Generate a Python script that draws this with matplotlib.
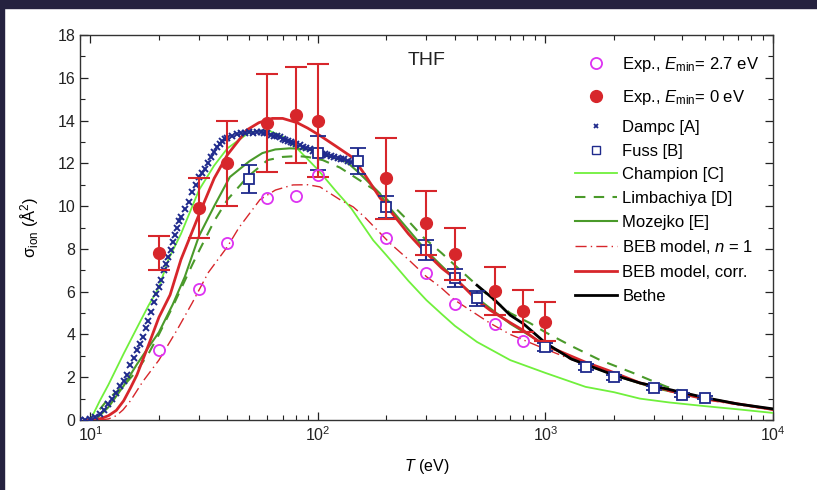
import matplotlib
matplotlib.use("Agg")
import matplotlib.pyplot as plt
from matplotlib.lines import Line2D
from matplotlib.patches import Rectangle
from matplotlib.ticker import MultipleLocator

plt.rcParams['font.family'] = ['Liberation Sans', 'DejaVu Sans']
plt.rcParams['mathtext.fontset'] = 'custom'
plt.rcParams['mathtext.rm'] = 'Liberation Sans'
plt.rcParams['mathtext.it'] = 'Liberation Sans:italic'
plt.rcParams['mathtext.bf'] = 'Liberation Sans:bold'

# --- experiment, E_min = 2.7 eV (open magenta circles)
exp27_T = [20, 30, 40, 60, 80, 100, 200, 300, 400, 600, 800]
exp27_s = [3.27, 6.12, 8.27, 10.38, 10.47, 11.45, 8.5, 6.87, 5.42, 4.49, 3.69]

# --- experiment, E_min = 0 eV (filled red circles with error bars)
exp0_T = [20, 30, 40, 60, 80, 100, 200, 300, 400, 600, 800, 1000]
exp0_s = [7.8, 9.9, 12.0, 13.9, 14.25, 14.0, 11.3, 9.2, 7.76, 6.03, 5.1, 4.6]
exp0_err = [0.8, 1.4, 2.0, 2.3, 2.25, 2.65, 1.9, 1.5, 1.2, 1.1, 1.0, 0.9]

# --- Dampc [A]
dampc_T = [9.0, 9.5, 10.0, 10.5, 11.0, 11.5, 12.0, 12.5, 13.0, 13.5, 14.0, 14.5,
           15.0, 15.5, 16.0, 16.5, 17.0, 17.5, 18.0, 18.5, 19.0, 19.5, 20.0, 20.5,
           21.0, 21.5, 22.0, 22.5, 23.0, 23.5, 24.0, 24.5, 25.0, 26, 27, 28, 29, 30,
           31, 32, 33, 34, 35, 36, 37, 38, 39, 40, 42, 44, 46, 48, 50, 52, 54, 56,
           58, 60, 62, 64, 66, 68, 70, 72, 74, 76, 78, 80, 83, 86, 89, 92, 95, 98,
           101, 104, 107, 110, 114, 118, 122, 126, 130, 135, 140, 145, 150]
dampc_s = [0.0, 0.0, 0.05, 0.15, 0.28, 0.47, 0.75, 1.0, 1.28, 1.6, 1.82, 2.1,
           2.55, 2.9, 3.25, 3.55, 3.9, 4.3, 4.65, 5.05, 5.5, 5.9, 6.2, 6.55,
           7.0, 7.3, 7.6, 7.95, 8.3, 8.65, 9.0, 9.3, 9.5, 9.85, 10.2, 10.65, 11.0, 11.35,
           11.55, 11.75, 12.0, 12.3, 12.55, 12.75, 12.9, 13.05, 13.15, 13.2, 13.3, 13.38, 13.4, 13.42, 13.45, 13.44, 13.47, 13.45,
           13.43, 13.4, 13.33, 13.3, 13.26, 13.22, 13.15, 13.1, 13.05, 13.0, 12.95, 12.9, 12.85, 12.78, 12.7, 12.65, 12.6, 12.55,
           12.5, 12.45, 12.42, 12.38, 12.33, 12.3, 12.25, 12.2, 12.18, 12.12, 12.08, 12.05, 12.0]

# --- Fuss [B]
fuss_T = [50, 100, 150, 200, 300, 400, 500, 1000, 1500, 2000, 3000, 4000, 5000]
fuss_s = [11.25, 12.48, 12.1, 9.96, 7.95, 6.64, 5.7, 3.42, 2.48, 2.0, 1.5, 1.17, 1.03]
fuss_err = [0.65, 0.8, 0.6, 0.5, 0.45, 0.4, 0.35, 0.2, 0.15, 0.12, 0.1, 0.08, 0.07]

# --- Champion [C]
champ_T = [10, 11, 12, 14, 16, 18, 20, 22, 25, 30, 35, 40, 50, 60, 70, 80, 90, 100,
           120, 140, 160, 175, 200, 250, 300, 350, 400, 500, 700, 1000, 1500, 2000,
           2600, 3500, 5000, 7000, 10000]
champ_s = [0.0, 0.9, 1.65, 3.1, 4.3, 5.35, 6.2, 7.5, 8.7, 10.75, 11.9, 12.7, 13.45, 13.56,
           13.25, 12.75, 12.2, 11.7, 10.7, 9.9, 9.0, 8.4, 7.7, 6.5, 5.6, 4.95, 4.4, 3.65,
           2.8, 2.2, 1.55, 1.3, 1.0, 0.82, 0.65, 0.5, 0.33]

# --- Limbachiya [D]
limb_T = [11, 12, 14, 16, 18, 20, 23, 28, 30, 35, 40, 49, 60, 70, 81, 90, 105, 125,
          153, 193, 250, 290, 350, 408, 500, 570, 700, 855, 1000, 1322, 1740, 2427,
          2880, 3420, 4000]
limb_s = [0.5, 1.0, 1.6, 2.3, 3.1, 4.0, 5.3, 7.25, 7.9, 9.3, 10.3, 11.36, 12.15, 12.3,
          12.34, 12.3, 12.15, 11.8, 11.2, 10.5, 9.3, 8.55, 7.8, 7.15, 6.3, 5.75, 5.0,
          4.53, 4.1, 3.42, 2.8, 2.2, 1.87, 1.55, 1.35]

# --- Mozejko [E]
moz_T = [10.5, 12, 14, 16, 18, 20, 23, 26, 30, 35, 41, 50, 57, 65, 75, 85, 95, 110,
         134, 150, 187, 200, 300, 400, 500, 700, 1000, 1500, 2000, 3000, 5000]
moz_s = [0.0, 0.6, 1.6, 2.6, 3.4, 4.1, 5.4, 6.7, 8.6, 10.0, 11.36, 12.1, 12.48, 12.65,
         12.7, 12.68, 12.6, 12.35, 12.06, 11.6, 10.6, 10.1, 7.9, 6.6, 5.7, 4.5, 3.5,
         2.6, 2.1, 1.5, 1.0]

# --- BEB model, n = 1
beb1_T = [11, 12, 13, 13.9, 15, 17, 20, 24, 28, 33, 40, 45, 55.6, 65, 77.6, 90, 102,
          125, 143, 160, 207, 250, 300, 344, 400, 570, 700, 946, 1322, 2000, 3000,
          5000, 10000]
beb1_s = [0.0, 0.05, 0.2, 0.47, 0.9, 1.8, 2.8, 4.2, 5.47, 6.9, 8.1, 9.0, 10.3, 10.75,
          10.99, 11.0, 10.9, 10.3, 9.96, 9.5, 8.27, 7.5, 6.7, 6.23, 5.6, 4.53, 4.0,
          3.42, 2.8, 2.1, 1.5, 0.95, 0.47]

# --- BEB model, corr.
bebc_T = [9.5, 11, 12, 13, 14, 15, 16, 18, 20, 22.4, 25, 30, 35, 40, 48.7, 55, 63, 70,
          81, 90, 102, 120, 143, 160, 187, 200, 250, 290, 350, 408, 500, 570, 700,
          796, 1000, 1122, 1500, 1862, 2606, 3420, 5600, 10000]
bebc_s = [0.0, 0.05, 0.2, 0.45, 0.9, 1.5, 2.1, 3.5, 4.8, 5.85, 7.5, 9.6, 11.3, 12.4,
          13.56, 13.9, 14.1, 14.1, 13.9, 13.65, 13.3, 12.8, 12.25, 11.5, 10.4, 10.0,
          8.7, 7.95, 7.1, 6.55, 5.6, 5.14, 4.55, 4.2, 3.45, 3.27, 2.7, 2.34, 1.73,
          1.42, 0.92, 0.49]

# --- Bethe
bethe_T = [500, 600, 700, 800, 1000, 1300, 1740, 2000, 2606, 3420, 5000, 7000, 10000]
bethe_s = [6.3, 5.6, 4.9, 4.5, 3.6, 2.85, 2.34, 2.1, 1.73, 1.45, 1.05, 0.75, 0.52]

magenta = '#dd33f2'
red = '#d7262b'
navy = '#1f2a8c'
lgreen = '#70f03c'
dgreen = '#4a9a2a'

W, H = 817, 490
fig = plt.figure(figsize=(W / 100, H / 100), dpi=100)
ax = fig.add_axes([80 / W, 70 / H, 693 / W, 385 / H])

ax.plot(champ_T, champ_s, color=lgreen, lw=1.3, zorder=3)
ax.plot(limb_T, limb_s, color=dgreen, lw=1.5, ls=(0, (5, 4)), zorder=3)
ax.plot(moz_T, moz_s, color=dgreen, lw=1.5, zorder=3)
ax.plot(beb1_T, beb1_s, color=red, lw=1.0, ls=(0, (8, 3, 1, 3)), zorder=3)
ax.plot(bebc_T, bebc_s, color=red, lw=2.0, zorder=4)
ax.plot(bethe_T, bethe_s, color='black', lw=2.0, zorder=5)

ax.plot(dampc_T, dampc_s, ls='none', marker='x', ms=4, mew=1.4, color=navy, zorder=4)
ax.errorbar(fuss_T, fuss_s, yerr=fuss_err, fmt='s', ms=6.5, mfc='white', mec=navy,
            mew=1.3, ecolor=navy, elinewidth=1.5, capsize=6, capthick=1.5, zorder=6)
ax.errorbar(exp0_T, exp0_s, yerr=exp0_err, fmt='o', ms=8.5, color=red, ecolor=red,
            elinewidth=1.5, capsize=8, capthick=1.5, zorder=7)
ax.plot(exp27_T, exp27_s, ls='none', marker='o', ms=8, mfc='none', mec=magenta,
        mew=1.3, zorder=7)

ax.set_xscale('log')
ax.set_xlim(9, 1e4)
ax.set_ylim(0, 18)
ax.yaxis.set_major_locator(MultipleLocator(2))
ax.yaxis.set_minor_locator(MultipleLocator(1))
ax.tick_params(which='both', direction='in', top=True, right=True, labelsize=11.5,
               colors='#222222')
ax.tick_params(which='major', length=6, width=0.9)
ax.tick_params(which='minor', length=3.5, width=0.8)
for sp in ax.spines.values():
    sp.set_linewidth(1.0)
    sp.set_color('#333333')

ax.set_xlabel('$\\mathit{T}$ (eV)', fontsize=11.5, labelpad=10)
ax.set_ylabel('σ$_{\\rm ion}$ (Å$^2$)', fontsize=12, labelpad=12)
ax.text(0.5, 0.935, 'THF', transform=ax.transAxes, ha='center', va='center',
        fontsize=14, color='#222222')

# legend: the two experiment entries (taller rows) and the rest
exp_handles = [
    Line2D([], [], ls='none', marker='o', ms=8, mfc='none', mec=magenta, mew=1.3),
    Line2D([], [], ls='none', marker='o', ms=8.5, color=red),
]
exp_labels = [
    'Exp., $\\mathit{E}_{\\rm min}$= 2.7 eV',
    'Exp., $\\mathit{E}_{\\rm min}$= 0 eV',
]
other_handles = [
    Line2D([], [], ls='none', marker='x', ms=3.5, mew=1.3, color=navy),
    Line2D([], [], ls='none', marker='s', ms=6, mfc='white', mec=navy, mew=1.0),
    Line2D([], [], color=lgreen, lw=1.3),
    Line2D([], [], color=dgreen, lw=1.5, ls=(0, (5, 4))),
    Line2D([], [], color=dgreen, lw=1.5),
    Line2D([], [], color=red, lw=1.0, ls=(0, (8, 3, 1, 3))),
    Line2D([], [], color=red, lw=2.0),
    Line2D([], [], color='black', lw=2.0),
]
other_labels = [
    'Dampc [A]',
    'Fuss [B]',
    'Champion [C]',
    'Limbachiya [D]',
    'Mozejko [E]',
    'BEB model, $\\mathit{n}$ = 1',
    'BEB model, corr.',
    'Bethe',
]
leg_kw = dict(frameon=False, fontsize=12, handlelength=2.5, handletextpad=0.35,
              borderpad=0, borderaxespad=0, loc='upper left',
              bbox_transform=fig.transFigure)
leg1 = fig.legend(exp_handles, exp_labels, bbox_to_anchor=(575 / W, 1 - 55 / H),
                  labelspacing=0.85, **leg_kw)
leg2 = fig.legend(other_handles, other_labels, bbox_to_anchor=(575 / W, 1 - 120 / H),
                  labelspacing=0.52, **leg_kw)

# dark frame strips at the top and left of the picture
fig.patches.append(Rectangle((0, 1 - 8 / H), 1, 8 / H, transform=fig.transFigure,
                             color='#25223f', zorder=-1))
fig.patches.append(Rectangle((0, 0), 4 / W, 1, transform=fig.transFigure,
                             color='#25223f', zorder=-1))

fig.savefig('out.png', dpi=100)
